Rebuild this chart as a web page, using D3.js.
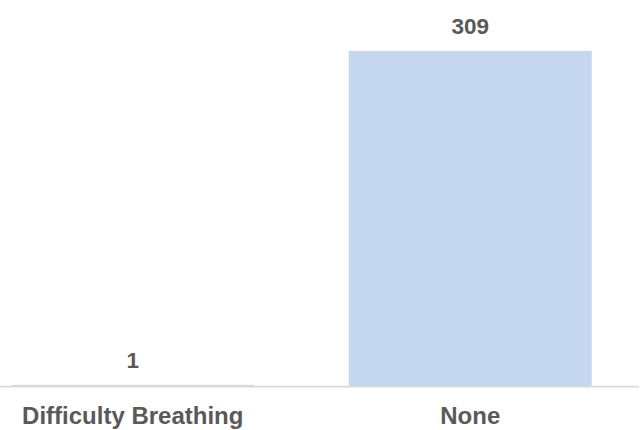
<!DOCTYPE html>
<html><head><meta charset="utf-8">
<script src="https://cdn.jsdelivr.net/npm/d3@7"></script>
<style>html,body{margin:0;padding:0;background:#fff;}svg{display:block;}</style>
</head><body>
<svg id="c" width="642" height="430"></svg>
<script>
const categories = ["Difficulty Breathing", "None"];
const values = [1, 309];

const svg = d3.select("#c");
const x = d3.scaleBand().domain(categories).range([-36, 639]).paddingInner(0.28).paddingOuter(0.14);
const y = d3.scaleLinear().domain([0, 309]).range([386, 51]);
const font = "'Liberation Sans', Arial, sans-serif";
const data = categories.map((c, i) => ({c, v: values[i]}));

svg.selectAll("rect.bar").data(data).enter().append("rect")
  .attr("class", "bar")
  .attr("x", d => x(d.c)).attr("width", x.bandwidth())
  .attr("y", d => y(d.v)).attr("height", d => y(0) - y(d.v))
  .attr("fill", "#c5d7ef");

svg.append("line").attr("x1", 0).attr("x2", 639).attr("y1", y(0) + 0.6).attr("y2", y(0) + 0.6)
  .attr("stroke", "#d9d9d9").attr("stroke-width", 1.6);

svg.selectAll("text.val").data(data).enter().append("text")
  .attr("class", "val")
  .attr("x", d => x(d.c) + x.bandwidth() / 2).attr("y", d => y(d.v) - 17.3)
  .attr("text-anchor", "middle").attr("font-family", font).attr("font-weight", "bold")
  .attr("font-size", 22.5).attr("fill", "#595959").text(d => d.v);

svg.selectAll("text.cat").data(categories).enter().append("text")
  .attr("class", "cat")
  .attr("x", d => x(d) + x.bandwidth() / 2).attr("y", 424.3)
  .attr("text-anchor", "middle").attr("font-family", font).attr("font-weight", "bold")
  .attr("font-size", 24).attr("fill", "#595959").text(d => d);
</script>
</body></html>
